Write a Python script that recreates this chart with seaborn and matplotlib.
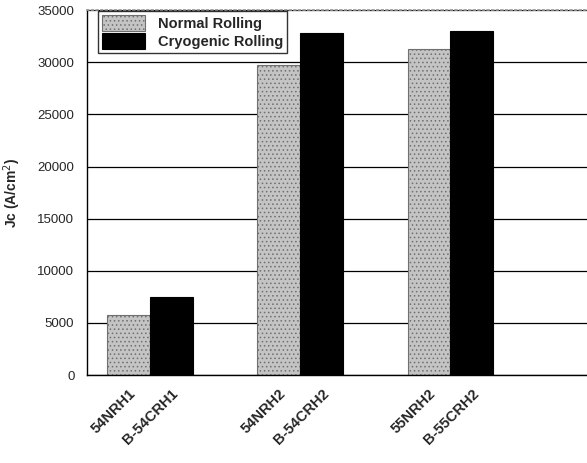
import pandas as pd
import matplotlib
matplotlib.use("Agg")
import matplotlib.pyplot as plt
import seaborn as sns

# ---------------- DATA ----------------
groups = ["G1", "G2", "G3"]
normal_labels = ["54NRH1", "54NRH2", "55NRH2"]
cryo_labels = ["B-54CRH1", "B-54CRH2", "B-55CRH2"]
normal_jc = [5750, 29700, 31250]
cryo_jc = [7450, 32800, 33000]
series = ["Normal Rolling", "Cryogenic Rolling"]

df = pd.DataFrame({
    "group": groups * 2,
    "process": [series[0]] * 3 + [series[1]] * 3,
    "jc": normal_jc + cryo_jc,
})

# ---------------- THEME ----------------
sns.set_theme(style="white")
plt.rcParams["font.family"] = ["Liberation Sans", "DejaVu Sans"]
plt.rcParams["hatch.linewidth"] = 0.6

fig = plt.figure(figsize=(5.87, 4.63), dpi=100)
ax = fig.add_axes([0.148, 0.19, 0.852, 0.788])

sns.barplot(
    data=df, x="group", y="jc", hue="process",
    hue_order=series, order=groups,
    palette={series[0]: "#c4c4c4", series[1]: "#000000"},
    width=0.57, saturation=1, ax=ax, legend=True,
)

# texture + outline for the bars
for bar in ax.patches:
    if bar.get_facecolor()[0] > 0.5:
        bar.set_hatch("....")
        bar.set_edgecolor("#707070")
    else:
        bar.set_edgecolor("black")
    bar.set_linewidth(0.8)

# tick labels under each bar
bars = [p for p in ax.patches if p.get_height() > 0]
bars = sorted(bars, key=lambda p: p.get_x())
centers = [p.get_x() + p.get_width() / 2 for p in bars]
ax.set_xticks(centers)
labels = []
for n, c in zip(normal_labels, cryo_labels):
    labels += [n, c]
ax.set_xticklabels(labels, rotation=45, ha="right", rotation_mode="anchor",
                   fontsize=10.5, fontweight="bold")
ax.tick_params(axis="x", length=0, pad=8)

ax.set_xlim(-0.42, 2.91)
ax.set_ylim(0, 35000)
ax.set_yticks(range(0, 35001, 5000))
ax.tick_params(axis="y", labelsize=9.5, length=0, pad=9)
ax.yaxis.grid(True, color="black", linewidth=0.9)
ax.set_axisbelow(True)
ax.set_xlabel("")
ax.set_ylabel("Jc (A/cm$^2$)", fontsize=10, fontweight="bold", labelpad=10)

for s in ["left", "bottom"]:
    ax.spines[s].set_color("black")
    ax.spines[s].set_linewidth(1)
ax.spines["right"].set_visible(False)
ax.spines["top"].set_color("#999999")
ax.spines["top"].set_linestyle(":")

leg = ax.legend(loc="upper left", bbox_to_anchor=(0.022, 0.997), frameon=True,
                fancybox=False, edgecolor="black", borderpad=0.25,
                handlelength=3.0, handleheight=1.3, labelspacing=0.15,
                handletextpad=0.9, borderaxespad=0,
                prop={"weight": "bold", "size": 10.5})
leg.get_frame().set_linewidth(1)

fig.savefig("out.png", dpi=100)
